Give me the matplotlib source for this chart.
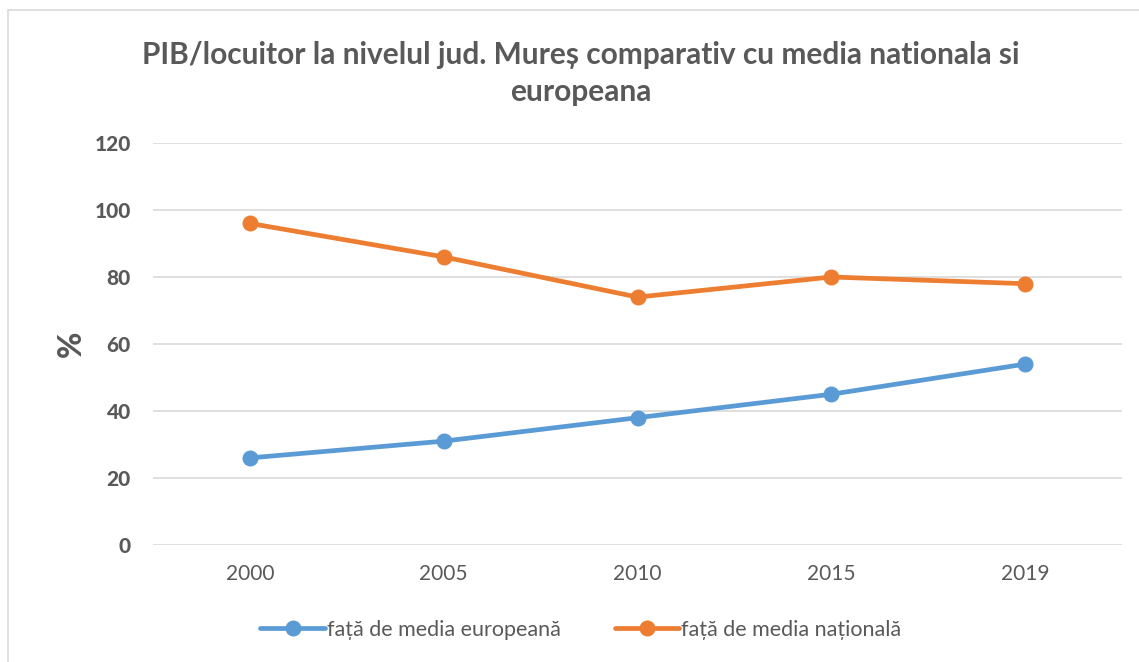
import matplotlib.pyplot as plt
from matplotlib.patches import Rectangle

years = ['2000', '2005', '2010', '2015', '2019']
fata_eu = [26, 31, 38, 45, 54]
fata_nat = [96, 86, 74, 80, 78]
yticks = [0, 20, 40, 60, 80, 100, 120]

plt.rcParams['font.family'] = ['Lato', 'DejaVu Sans']
grey = '#595959'

fig = plt.figure(figsize=(11.39, 6.62), dpi=100)
fig.patches.append(Rectangle((8 / 1139, -0.1), 1.2, 1 - 10 / 662 + 0.1, transform=fig.transFigure,
                             fill=False, edgecolor='#d9d9d9', linewidth=1.2))

ax = fig.add_axes([153 / 1139, 1 - 545 / 662, 969 / 1139, 402 / 662])
x = range(len(years))
ax.plot(x, fata_eu, color='#5B9BD5', linewidth=3.4, marker='o', markersize=10.5,
        label='față de media europeană', solid_capstyle='round')
ax.plot(x, fata_nat, color='#ED7D31', linewidth=3.4, marker='o', markersize=10.5,
        label='față de media națională', solid_capstyle='round')

ax.set_xlim(-0.5, len(years) - 0.5)
ax.set_ylim(0, 120)
for s in ax.spines.values():
    s.set_visible(False)
ax.grid(axis='y', color='#d9d9d9', linewidth=1.2)
ax.set_axisbelow(True)
ax.tick_params(length=0, colors=grey)
ax.tick_params(axis='y', pad=16)
ax.tick_params(axis='x', pad=14)
ax.set_yticks(yticks)
ax.set_yticklabels([str(v) for v in yticks], fontweight='black', fontsize=15)
ax.set_xticks(list(x))
ax.set_xticklabels(years, fontsize=15)
ax.set_ylabel('%', fontsize=23, fontweight='black', color=grey, labelpad=6)

fig.text(0.51, 1 - 55 / 662, 'PIB/locuitor la nivelul jud. Mureș comparativ cu media nationala si',
         ha='center', va='center', fontsize=21.5, fontweight='bold', color=grey)
fig.text(0.51, 1 - 92 / 662, 'europeana',
         ha='center', va='center', fontsize=21.5, fontweight='bold', color=grey)

fig.legend(loc='center', bbox_to_anchor=(0.51, 1 - 630 / 662), ncol=2, frameon=False,
           fontsize=15.5, labelcolor=grey, handlelength=3, handletextpad=0.1, columnspacing=2.5)

plt.savefig('out.png', dpi=100)
